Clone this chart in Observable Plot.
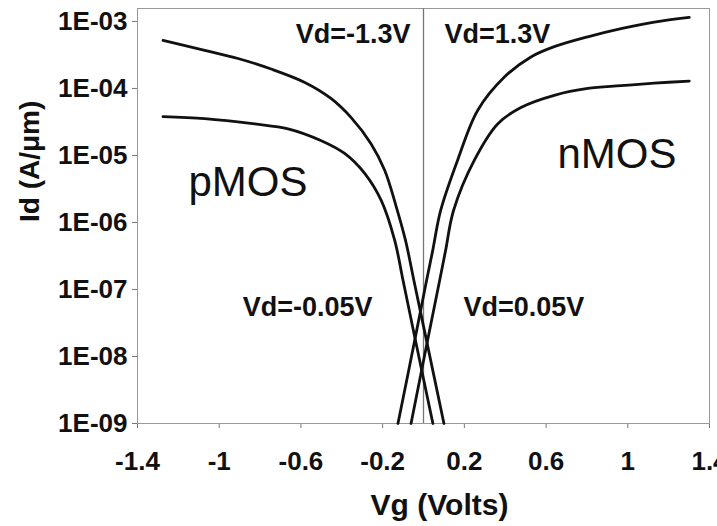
<!DOCTYPE html>
<html>
<head>
<meta charset="utf-8">
<script src="https://cdn.jsdelivr.net/npm/d3@7"></script>
<script src="https://cdn.jsdelivr.net/npm/@observablehq/plot@0.6"></script>
<style>
  html, body { margin: 0; padding: 0; background: #fff; }
  #chart svg { font-family: "Liberation Sans", Arial, sans-serif; }
  #chart svg g[aria-label="x-axis tick"], #chart svg g[aria-label="y-axis tick"] { stroke: #777; }
</style>
</head>
<body>
<div id="chart"></div>
<script>
// pMOS, Vd = -1.3 V
const pHighVg = [-1.275, -1.071, -0.908, -0.746, -0.581, -0.453, -0.355, -0.257, -0.190, -0.133, -0.088, -0.047, 0.022, 0.100];
const pHighId = [5.2e-4, 3.7e-4, 2.8e-4, 1.95e-4, 1.23e-4, 7.1e-5, 3.7e-5, 1.5e-5, 6.0e-6, 1.7e-6, 5.4e-7, 1.36e-7, 1.36e-8, 1.0e-9];
// pMOS, Vd = -0.05 V
const pLowVg = [-1.275, -1.071, -0.826, -0.663, -0.500, -0.386, -0.288, -0.207, -0.141, -0.100, -0.032, 0.046];
const pLowId = [3.8e-5, 3.55e-5, 2.95e-5, 2.5e-5, 1.66e-5, 1.07e-5, 5.4e-6, 2.13e-6, 5.4e-7, 1.36e-7, 1.36e-8, 1.0e-9];
// nMOS, Vd = 1.3 V
const nHighVg = [-0.125, -0.050, 0.015, 0.045, 0.084, 0.167, 0.265, 0.396, 0.526, 0.640, 0.804, 0.967, 1.130, 1.301];
const nHighId = [1.0e-9, 1.36e-8, 1.36e-7, 3.8e-7, 1.51e-6, 8.5e-6, 4.7e-5, 1.48e-4, 2.95e-4, 4.2e-4, 5.9e-4, 7.8e-4, 9.8e-4, 1.15e-3];
// nMOS, Vd = 0.05 V
const nLowVg = [-0.061, 0.013, 0.079, 0.108, 0.147, 0.249, 0.363, 0.477, 0.640, 0.804, 0.967, 1.130, 1.301];
const nLowId = [1.0e-9, 1.36e-8, 1.36e-7, 3.8e-7, 1.51e-6, 8.5e-6, 2.95e-5, 5.2e-5, 7.9e-5, 1.0e-4, 1.1e-4, 1.2e-4, 1.29e-4];

const xTickValues = [-1.4, -1, -0.6, -0.2, 0.2, 0.6, 1, 1.4];
const xTickLabels = ["-1.4", "-1", "-0.6", "-0.2", "0.2", "0.6", "1", "1.4"];
const yTickValues = [1e-9, 1e-8, 1e-7, 1e-6, 1e-5, 1e-4, 1e-3];
const yTickLabels = ["1E-09", "1E-08", "1E-07", "1E-06", "1E-05", "1E-04", "1E-03"];
const refVg = [0];

const curves = [
  {name: "pMOS Vd=-1.3V", vg: pHighVg, id: pHighId},
  {name: "pMOS Vd=-0.05V", vg: pLowVg, id: pLowId},
  {name: "nMOS Vd=1.3V", vg: nHighVg, id: nHighId},
  {name: "nMOS Vd=0.05V", vg: nLowVg, id: nLowId}
];
const rows = curves.flatMap(c => c.vg.map((v, i) => ({curve: c.name, Vg: v, Id: c.id[i]})));

const bold = {fontWeight: "bold", fontSize: 27, fill: "#111", frameAnchor: "top-left", lineAnchor: "middle"};
const big = {fontWeight: "normal", fontSize: 42, fill: "#111", frameAnchor: "top-left", lineAnchor: "middle", textAnchor: "start"};

const chart = Plot.plot({
  width: 717,
  height: 526,
  marginLeft: 137,
  marginRight: 8,
  marginTop: 8,
  marginBottom: 103,
  style: {fontSize: "26px", fontWeight: "bold", color: "#111", background: "#fff"},
  x: {domain: [-1.4, 1.4], ticks: xTickValues, tickFormat: d => xTickLabels[xTickValues.indexOf(d)], tickSize: 5, tickPadding: 23, label: null},
  y: {type: "log", domain: [1e-9, 1.56e-3], ticks: yTickValues, tickFormat: d => yTickLabels[yTickValues.indexOf(d)], tickSize: 5, tickPadding: 5, label: null},
  marks: [
    Plot.frame({stroke: "#999", strokeWidth: 1}),
    Plot.ruleX(refVg, {stroke: "#777", strokeWidth: 1.3}),
    Plot.line(rows, {x: "Vg", y: "Id", z: "curve", stroke: "#111", strokeWidth: 2.8, curve: "catmull-rom"}),
    Plot.text(["Vd=-1.3V"], {...bold, textAnchor: "end", dx: 273, dy: 26}),
    Plot.text(["Vd=1.3V"], {...bold, textAnchor: "start", dx: 307, dy: 26}),
    Plot.text(["Vd=-0.05V"], {...bold, textAnchor: "end", dx: 235, dy: 299}),
    Plot.text(["Vd=0.05V"], {...bold, textAnchor: "start", dx: 326, dy: 299}),
    Plot.text(["pMOS"], {...big, dx: 51, dy: 174}),
    Plot.text(["nMOS"], {...big, dx: 420, dy: 146}),
    Plot.text(["Vg (Volts)"], {fontWeight: "bold", fontSize: 30, fill: "#111", frameAnchor: "bottom", lineAnchor: "middle", dx: 16, dy: 82}),
    Plot.text(["Id (A/μm)"], {fontWeight: "bold", fontSize: 28, fill: "#111", frameAnchor: "left", lineAnchor: "middle", rotate: -90, dx: -107, dy: 6})
  ]
});
document.getElementById("chart").appendChild(chart);
</script>
</body>
</html>
